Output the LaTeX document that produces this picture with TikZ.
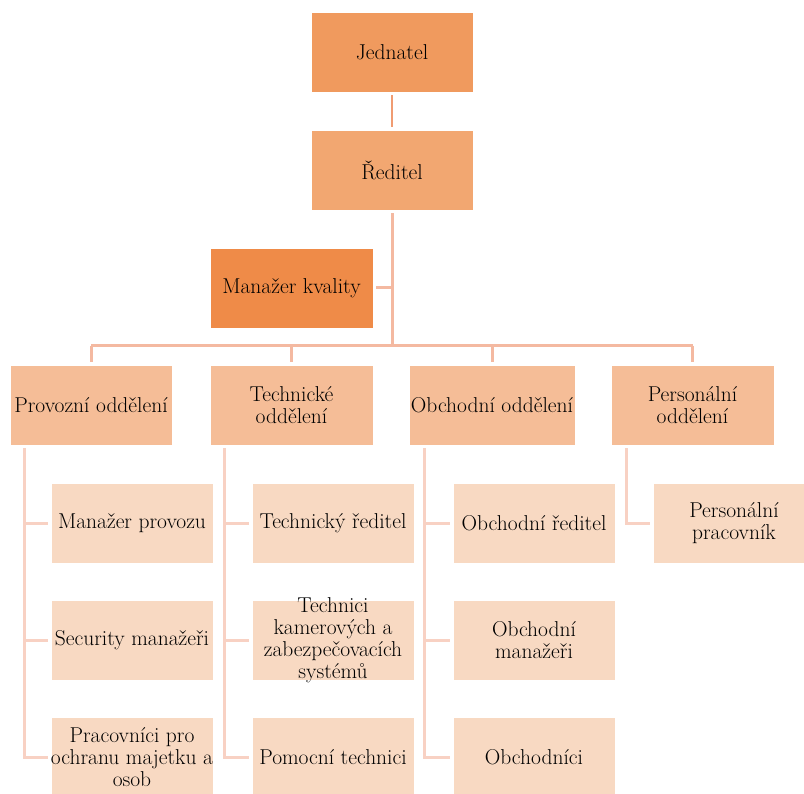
\documentclass[tikz,border=0pt]{standalone}
\usepackage{fontspec}
\definecolor{cjed}{HTML}{F09A5E}
\definecolor{cred}{HTML}{F2A771}
\definecolor{ckval}{HTML}{EF8B48}
\definecolor{clvtwo}{HTML}{F5BD97}
\definecolor{clvthree}{HTML}{F8D9C2}
\definecolor{lnone}{HTML}{F09C72}
\definecolor{lntwo}{HTML}{F4B9A1}
\definecolor{lnthree}{HTML}{F8D1C3}
\tikzset{
  box/.style={draw=white, line width=0.8pt, minimum width=162pt, minimum height=80pt,
    inner sep=2pt, align=center, font=\fontsize{21.5}{22}\selectfont, text=black},
  txt/.style={inner sep=0pt, align=center, font=\fontsize{21.5}{22}\selectfont, text=black},
  topln/.style={draw=lnone, line width=2.5pt, shorten <=3pt, shorten >=3pt},
  midln/.style={draw=lntwo, line width=3pt},
  subln/.style={draw=lnthree, line width=3pt},
}
\begin{document}
\begin{tikzpicture}[x=1pt,y=-1pt]
\clip (0,0) rectangle (804,794);
\fill[white] (0,0) rectangle (804,794);
% level 0/1
\node[box, fill=cjed] (jed) at (392,52) {Jednatel};
\node[box, fill=cred] (red) at (392,170) {Ředitel};
\node[box, fill=ckval, minimum width=163pt] (kval) at (291.5,288) {Manažer kvality};
% level 2
\node[box, fill=clvtwo] (prov) at (91,405) {Provozní oddělení};
\node[box, fill=clvtwo, minimum width=163pt] (tech) at (291.5,405) {Technické\\oddělení};
\node[box, fill=clvtwo] (obch) at (492,405) {Obchodní oddělení};
\node[box, fill=clvtwo, minimum width=163pt] (pers) at (692.5,405) {Personální\\oddělení};
% level 3
\node[box, fill=clvthree] (p1) at (132,523) {Manažer provozu};
\node[box, fill=clvthree] (p2) at (132,640) {Security manažeři};
\node[box, fill=clvthree] (p3) at (132,757) {};
\node[txt] (p3txt) at (p3.center) {Pracovníci pro\\ochranu majetku a\\osob};
\node[box, fill=clvthree] (t1) at (333,523) {Technický ředitel};
\node[box, fill=clvthree] (t2) at (333,640) {};
\node[txt] (t2txt) at (t2.center) {Technici\\kamerových a\\zabezpečovacích\\systémů};
\node[box, fill=clvthree] (t3) at (333,757) {Pomocní technici};
\node[box, fill=clvthree] (o1) at (534,523) {Obchodní ředitel};
\node[box, fill=clvthree] (o2) at (534,640) {Obchodní\\manažeři};
\node[box, fill=clvthree] (o3) at (534,757) {Obchodníci};
\node[box, fill=clvthree] (e1) at (734,523) {Personální\\pracovník};
% connectors
\coordinate (bus) at (392,346);
\draw[topln] (jed.south) -- (red.south |- red.north);
\draw[midln, shorten <=3pt] (red.south) -- (bus);
\draw[midln, shorten <=3pt] (kval.east) -- (kval.east -| bus);
\draw[midln] (prov.north |- bus) -- (pers.north |- bus);
\foreach \n in {prov,tech,obch,pers}
  \draw[midln, shorten >=3pt] (\n.north |- bus) -- (\n.north);
% sub connectors
\coordinate (pa) at ([xshift=15pt,yshift=-3pt]prov.south west);
\coordinate (ta) at ([xshift=15pt,yshift=-3pt]tech.south west);
\coordinate (oa) at ([xshift=16pt,yshift=-3pt]obch.south west);
\coordinate (ea) at ([xshift=16pt,yshift=-3pt]pers.south west);
\foreach \c in {p1,p2,p3} \draw[subln, shorten >=3pt] (pa) |- (\c.west);
\foreach \c in {t1,t2,t3} \draw[subln, shorten >=3pt] (ta) |- (\c.west);
\foreach \c in {o1,o2,o3} \draw[subln, shorten >=3pt] (oa) |- (\c.west);
\draw[subln, shorten >=3pt] (ea) |- (e1.west);
\end{tikzpicture}
\end{document}
